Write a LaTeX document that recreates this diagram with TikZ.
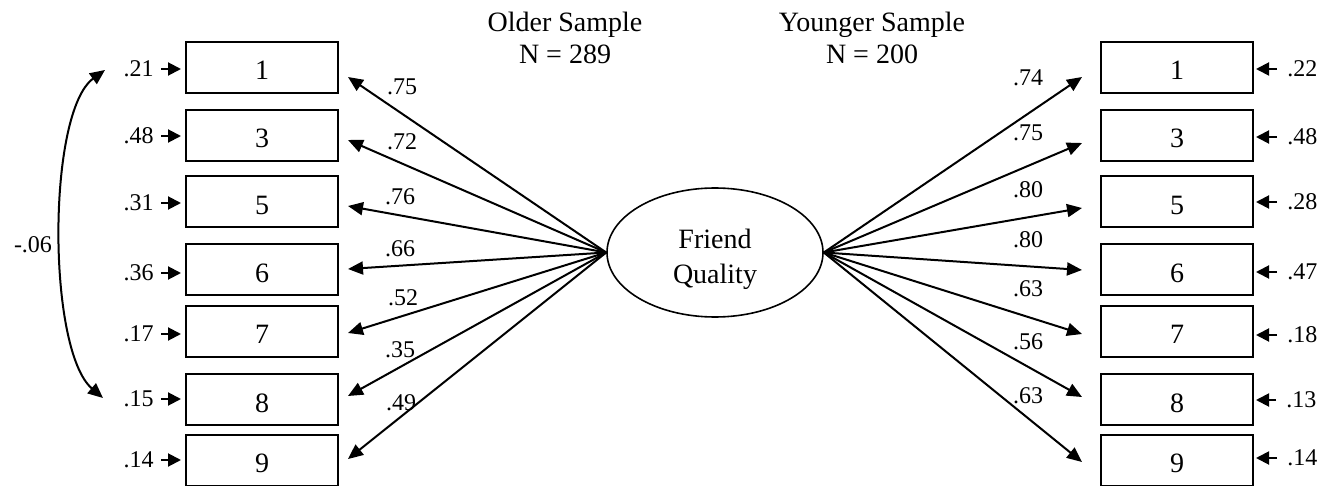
\documentclass[tikz,border=0pt]{standalone}
\usepackage{fontspec}
\setmainfont{Liberation Serif}
\usetikzlibrary{arrows.meta,shapes.geometric}
\begin{document}
\begin{tikzpicture}[x=0.5pt,y=-0.5pt,
  item/.style={draw,line width=1pt,minimum width=76pt,minimum height=25.5pt,inner sep=0pt,
    font=\fontsize{14}{16}\selectfont,text height=12.5pt,text depth=0pt},
  lbl/.style={inner sep=0pt,font=\fontsize{12}{14}\selectfont},
  load/.style={line width=1pt,-{Triangle[length=7.5pt,width=6.5pt]}},
  err/.style={line width=1pt,-{Triangle[length=6.5pt,width=6.5pt]}},
  title/.style={inner sep=0pt,align=center,font=\fontsize{14}{16}\selectfont},
]
\useasboundingbox (0,0) rectangle (1320,486);

% titles
\node[title] (old) at (565,37.5) {Older Sample\\N = 289};
\node[title] (young) at (872,37.5) {Younger Sample\\N = 200};

% latent factor
\node[draw,ellipse,line width=0.8pt,minimum width=108pt,minimum height=64.5pt,inner sep=0pt] (fq) at (715,252.5) {};
\node[inner sep=0pt,align=center,font=\fontsize{14}{17.5}\selectfont] (fqt) at (715,259) {Friend\\Quality};

% left boxes
\node[item] (l1) at (262,67.5) {1};
\node[item] (l3) at (262,135.5) {3};
\node[item] (l5) at (262,201.5) {5};
\node[item] (l6) at (262,269.5) {6};
\node[item] (l7) at (262,331) {7};
\node[item] (l8) at (262,399.5) {8};
\node[item] (l9) at (262,460) {9};

% right boxes
\node[item] (r1) at (1177,67.5) {1};
\node[item] (r3) at (1177,135.5) {3};
\node[item] (r5) at (1177,201.5) {5};
\node[item] (r6) at (1177,269.5) {6};
\node[item] (r7) at (1177,331) {7};
\node[item] (r8) at (1177,399.5) {8};
\node[item] (r9) at (1177,460) {9};

% arrow tips of loadings
\coordinate (lt1) at (348,77);
\coordinate (lt3) at (348,140);
\coordinate (lt5) at (348,206);
\coordinate (lt6) at (348,269);
\coordinate (lt7) at (348,333);
\coordinate (lt8) at (348,396);
\coordinate (lt9) at (348,459);
\coordinate (rt1) at (1082,77);
\coordinate (rt3) at (1082,143);
\coordinate (rt5) at (1082,208);
\coordinate (rt6) at (1082,270);
\coordinate (rt7) at (1082,334);
\coordinate (rt8) at (1082,397);
\coordinate (rt9) at (1082,462);

\foreach \i in {1,3,5,6,7,8,9}{
  \draw[load] (fq.west) -- (lt\i);
  \draw[load] (fq.east) -- (rt\i);
}

% loading labels left
\node[lbl] (ll1) at (402,87) {.75};
\node[lbl] (ll3) at (402,142) {.72};
\node[lbl] (ll5) at (400,197) {.76};
\node[lbl] (ll6) at (400,249) {.66};
\node[lbl] (ll7) at (403,298) {.52};
\node[lbl] (ll8) at (400,350) {.35};
\node[lbl] (ll9) at (401,403) {.49};

% loading labels right
\node[lbl] (rl1) at (1028,78) {.74};
\node[lbl] (rl3) at (1028,133) {.75};
\node[lbl] (rl5) at (1028,190) {.80};
\node[lbl] (rl6) at (1028,240) {.80};
\node[lbl] (rl7) at (1028,289) {.63};
\node[lbl] (rl8) at (1028,342) {.56};
\node[lbl] (rl9) at (1028,396) {.63};

% error terms left
\node[lbl,anchor=east] (le1) at (154,69) {.21};
\node[lbl,anchor=east] (le3) at (154,136) {.48};
\node[lbl,anchor=east] (le5) at (154,203) {.31};
\node[lbl,anchor=east] (le6) at (154,273) {.36};
\node[lbl,anchor=east] (le7) at (154,334) {.17};
\node[lbl,anchor=east] (le8) at (154,399) {.15};
\node[lbl,anchor=east] (le9) at (154,460) {.14};
\foreach \i in {1,3,5,6,7,8,9}{
  \draw[err,shorten >=2pt] ([xshift=3.5pt]le\i.east) -- (le\i.east -| l\i.west);
}

% error terms right
\node[lbl,anchor=west] (re1) at (1287,69) {.22};
\node[lbl,anchor=west] (re3) at (1287,137) {.48};
\node[lbl,anchor=west] (re5) at (1287,202) {.28};
\node[lbl,anchor=west] (re6) at (1287,272) {.47};
\node[lbl,anchor=west] (re7) at (1287,335) {.18};
\node[lbl,anchor=west] (re8) at (1286,400) {.13};
\node[lbl,anchor=west] (re9) at (1287,458) {.14};
\foreach \i in {1,3,5,6,7,8,9}{
  \draw[err,shorten >=1pt] ([xshift=-5pt]re\i.west) -- (re\i.west -| r\i.east);
}

% correlated errors
\coordinate (ct) at (105,70);
\coordinate (cb) at (103,398);
\draw[line width=1pt,{Triangle[length=7.5pt,width=6.5pt]}-{Triangle[length=7.5pt,width=6.5pt]}]
  (ct) .. controls (47,112) and (47,350) .. (cb);
\node[lbl] (cl) at (33,245) {-.06};
\end{tikzpicture}
\end{document}
